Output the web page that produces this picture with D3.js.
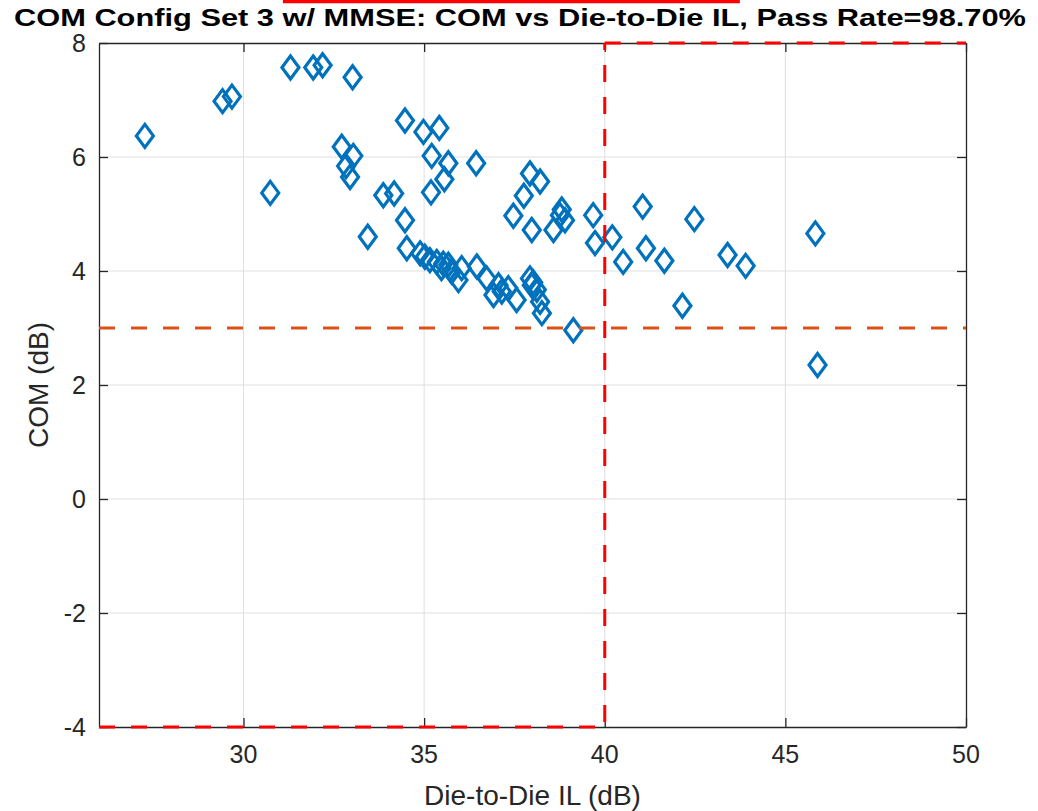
<!DOCTYPE html>
<html><head><meta charset="utf-8">
<script src="https://cdn.jsdelivr.net/npm/d3@7"></script>
<style>body{margin:0;background:#fff}svg{display:block}</style>
</head><body><svg id="c" width="1038" height="811"></svg>
<script>
// ---- data ----
const titleText = "COM Config Set 3 w/ MMSE: COM vs Die-to-Die IL, Pass Rate=98.70%";
const xLabel = "Die-to-Die IL (dB)";
const yLabel = "COM (dB)";
const ilValues = [27.27,29.42,29.68,31.30,31.93,32.19,33.02,30.74,32.72,33.04,32.84,32.95,33.87,34.17,33.44,34.47,34.52,34.47,34.98,35.42,35.21,35.67,35.56,35.19,36.44,37.93,38.21,37.76,37.47,37.98,38.81,38.90,38.58,39.68,39.73,40.21,41.05,40.51,41.14,41.65,42.48,42.15,43.40,43.90,45.83,45.89,34.89,35.02,35.16,35.35,35.53,35.67,35.48,35.76,35.95,36.04,36.46,36.73,36.92,37.06,37.15,37.33,37.56,37.93,37.98,38.12,38.21,38.26,39.13,38.76,38.02];
const comValues = [6.37,6.98,7.06,7.57,7.57,7.61,7.40,5.37,6.18,6.02,5.84,5.65,5.33,5.36,4.60,4.89,4.40,6.64,6.44,6.51,6.02,5.89,5.61,5.38,5.89,5.71,5.57,5.32,4.97,4.72,5.08,4.89,4.72,4.98,4.49,4.59,5.13,4.16,4.40,4.18,4.91,3.39,4.28,4.09,4.66,2.35,4.31,4.25,4.19,4.16,4.13,4.11,4.05,3.99,3.84,4.05,4.08,3.87,3.58,3.75,3.64,3.70,3.49,3.87,3.75,3.67,3.46,3.26,2.96,4.98,3.80];
const xTicks = [30,35,40,45,50];
const yTicks = [-4,-2,0,2,4,6,8];
const xDomain = [26,50];
const yDomain = [-4,8];
const comThreshold = 3;
const ilLimit = 40;
const topBar = {x0:31.09, x1:43.74, y:8.728};

// ---- layout ----
const svg = d3.select("#c");
const L=99, R=966, T=43, B=727;
const x = d3.scaleLinear().domain(xDomain).range([L,R]);
const y = d3.scaleLinear().domain(yDomain).range([B,T]);
const axisCol = "#262626";
const font = "'Liberation Sans', Arial, Helvetica, sans-serif";

svg.append("rect").attr("width",1038).attr("height",811).attr("fill","#fff");

// grid
const g = svg.append("g");
g.selectAll(".gx").data(xTicks.filter(v=>v>xDomain[0]&&v<xDomain[1])).enter().append("line")
  .attr("x1",d=>x(d)).attr("x2",d=>x(d)).attr("y1",T).attr("y2",B)
  .attr("stroke","#dfdfdf").attr("stroke-width",1);
g.selectAll(".gy").data(yTicks.filter(v=>v>yDomain[0]&&v<yDomain[1])).enter().append("line")
  .attr("y1",d=>y(d)).attr("y2",d=>y(d)).attr("x1",L).attr("x2",R)
  .attr("stroke","#dfdfdf").attr("stroke-width",1);

// axes box + ticks (inward)
const tl = 9;
function styleAxis(s){s.select(".domain").attr("stroke",axisCol).attr("stroke-width",1.3);s.selectAll("line").attr("stroke",axisCol).attr("stroke-width",1.3);}
svg.append("g").attr("transform",`translate(0,${B})`)
  .call(d3.axisBottom(x).tickValues(xTicks).tickSize(-tl).tickSizeOuter(0).tickFormat("")).call(styleAxis);
svg.append("g").attr("transform",`translate(0,${T})`)
  .call(d3.axisTop(x).tickValues(xTicks).tickSize(-tl).tickSizeOuter(0).tickFormat("")).call(styleAxis);
svg.append("g").attr("transform",`translate(${L},0)`)
  .call(d3.axisLeft(y).tickValues(yTicks).tickSize(-tl).tickSizeOuter(0).tickFormat("")).call(styleAxis);
svg.append("g").attr("transform",`translate(${R},0)`)
  .call(d3.axisRight(y).tickValues(yTicks).tickSize(-tl).tickSizeOuter(0).tickFormat("")).call(styleAxis);

// tick labels
svg.selectAll(".xl").data(xTicks).enter().append("text")
  .attr("x",d=>x(d)).attr("y",B+36).attr("text-anchor","middle")
  .attr("font-family",font).attr("font-size",25).attr("fill",axisCol).text(d=>d);
svg.selectAll(".yl").data(yTicks).enter().append("text")
  .attr("x",L-13).attr("y",d=>y(d)+9).attr("text-anchor","end")
  .attr("font-family",font).attr("font-size",25).attr("fill",axisCol).text(d=>d);

// axis labels
svg.append("text").attr("x",(L+R)/2).attr("y",805).attr("text-anchor","middle")
  .attr("font-family",font).attr("font-size",28).attr("fill",axisCol).text(xLabel);
svg.append("text").attr("transform",`translate(48,${(T+B)/2}) rotate(-90)`).attr("text-anchor","middle")
  .attr("font-family",font).attr("font-size",28).attr("fill",axisCol).text(yLabel);

// title
svg.append("text").attr("x",520).attr("y",26).attr("text-anchor","middle")
  .attr("font-family",font).attr("font-weight","bold").attr("font-size",24).attr("fill","#000")
  .attr("textLength",1012).attr("lengthAdjust","spacingAndGlyphs").text(titleText);

// scatter
const pts = ilValues.map((v,i)=>({il:v, com:comValues[i]}));
const hw=8.5, hh=11.5;
svg.append("g").selectAll("path").data(pts).enter().append("path")
  .attr("d",d=>{const cx=x(d.il), cy=y(d.com);return `M${cx},${cy-hh}L${cx+hw},${cy}L${cx},${cy+hh}L${cx-hw},${cy}Z`;})
  .attr("fill","none").attr("stroke","#0072BD").attr("stroke-width",3.2);

// threshold lines
svg.append("line").attr("x1",x(xDomain[0])).attr("x2",x(xDomain[1])).attr("y1",y(comThreshold)).attr("y2",y(comThreshold))
  .attr("stroke","#D95319").attr("stroke-width",3).attr("stroke-dasharray","16,16");
svg.append("line").attr("x1",x(ilLimit)).attr("x2",x(ilLimit)).attr("y1",y(yDomain[1])).attr("y2",y(yDomain[0]))
  .attr("stroke","#FF0000").attr("stroke-width",3).attr("stroke-dasharray","17,15").attr("stroke-dashoffset",10);
svg.append("line").attr("x1",x(ilLimit)).attr("x2",x(xDomain[1])).attr("y1",y(yDomain[1])).attr("y2",y(yDomain[1]))
  .attr("stroke","#FF0000").attr("stroke-width",3).attr("stroke-dasharray","16,16");
svg.append("line").attr("x1",x(xDomain[0])).attr("x2",x(ilLimit)).attr("y1",y(yDomain[0])).attr("y2",y(yDomain[0]))
  .attr("stroke","#FF0000").attr("stroke-width",3).attr("stroke-dasharray","16,16");
svg.append("line").attr("x1",x(topBar.x0)).attr("x2",x(topBar.x1)).attr("y1",y(topBar.y)).attr("y2",y(topBar.y))
  .attr("stroke","#FF0000").attr("stroke-width",3.5);
</script>
</body></html>
